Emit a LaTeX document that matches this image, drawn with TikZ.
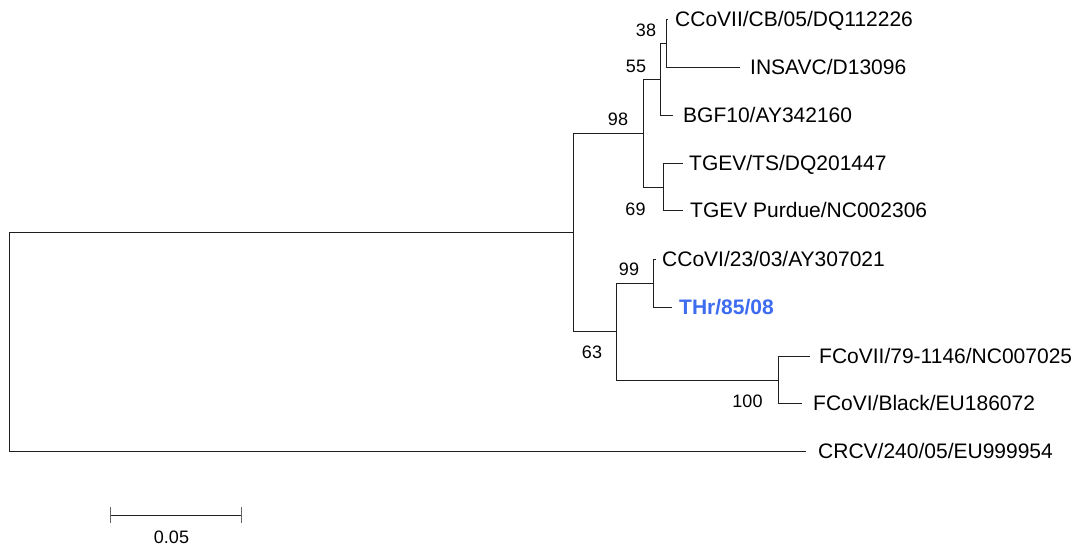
\documentclass[tikz,border=0pt]{standalone}
\usepackage{fontspec}
\setmainfont{Liberation Sans}
\definecolor{thrblue}{RGB}{62,108,240}
\definecolor{linegray}{RGB}{30,30,30}
\begin{document}
\begin{tikzpicture}[x=1pt,y=-1pt,
  branch/.style={line width=1pt, draw=linegray},
  leaf/.style={anchor=base west, inner sep=0pt, font=\fontsize{21}{25}\selectfont},
  boot/.style={anchor=base, inner sep=0pt, font=\fontsize{18}{22}\selectfont}]
\useasboundingbox (0,0) rectangle (1080,547);
\fill[white] (0,0) rectangle (1080,547);
% internal nodes
\coordinate (root) at (9,341);
\coordinate (nA) at (573,232);
\coordinate (n98) at (643,133);
\coordinate (n55) at (660,79);
\coordinate (n38) at (666,43);
\coordinate (n69) at (663,187);
\coordinate (n63) at (616,331);
\coordinate (n99) at (653,283);
\coordinate (n100) at (778,380);
% leaf tips
\coordinate (t1) at (668,19);
\coordinate (t2) at (740,67);
\coordinate (t3) at (673,115);
\coordinate (t4) at (683,163);
\coordinate (t5) at (683,210);
\coordinate (t6) at (656,259);
\coordinate (t7) at (672,307);
\coordinate (t8) at (810,356);
\coordinate (t9) at (802,403);
\coordinate (t10) at (806,451);
% branches
\draw[branch] (root) |- (nA);
\draw[branch] (root) |- (t10);
\draw[branch] (nA) |- (n98);
\draw[branch] (nA) |- (n63);
\draw[branch] (n98) |- (n55);
\draw[branch] (n98) |- (n69);
\draw[branch] (n55) |- (n38);
\draw[branch] (n55) |- (t3);
\draw[branch] (n38) |- (t1);
\draw[branch] (n38) |- (t2);
\draw[branch] (n69) |- (t4);
\draw[branch] (n69) |- (t5);
\draw[branch] (n63) |- (n99);
\draw[branch] (n63) |- (n100);
\draw[branch] (n99) |- (t6);
\draw[branch] (n99) |- (t7);
\draw[branch] (n100) |- (t8);
\draw[branch] (n100) |- (t9);
% leaf labels
\node[leaf] (L1) at (675,26.5) {CCoVII/CB/05/DQ112226};
\node[leaf] (L2) at (750,74.5) {INSAVC/D13096};
\node[leaf] (L3) at (683,122.5) {BGF10/AY342160};
\node[leaf] (L4) at (689,170.5) {TGEV/TS/DQ201447};
\node[leaf] (L5) at (690,217.5) {TGEV Purdue/NC002306};
\node[leaf] (L6) at (662,266.5) {CCoVI/23/03/AY307021};
\node[leaf, text=thrblue, font=\fontsize{21}{25}\selectfont\bfseries] (L7) at (679,314.5) {THr/85/08};
\node[leaf] (L8) at (819,363.5) {FCoVII/79-1146/NC007025};
\node[leaf] (L9) at (813,410.5) {FCoVI/Black/EU186072};
\node[leaf] (L10) at (818,458.5) {CRCV/240/05/EU999954};
% bootstrap values
\node[boot] (b38) at (646,36.5) {38};
\node[boot] (b55) at (636,72.5) {55};
\node[boot] (b98) at (618,125.5) {98};
\node[boot] (b69) at (635.5,215.5) {69};
\node[boot] (b99) at (629,275.5) {99};
\node[boot] (b63) at (592,358.5) {63};
\node[boot] (b100) at (747.5,407.5) {100};
% scale bar
\coordinate (sbL) at (110,515);
\coordinate (sbR) at (241,515);
\draw[branch] (sbL) -- (sbR);
\draw[line width=1pt, draw=black!60] (sbL) ++(0,-8) -- ++(0,16);
\draw[line width=1pt, draw=black!60] (sbR) ++(0,-8) -- ++(0,16);
\node[boot] (sb) at (171.5,543) {0.05};
\end{tikzpicture}
\end{document}
